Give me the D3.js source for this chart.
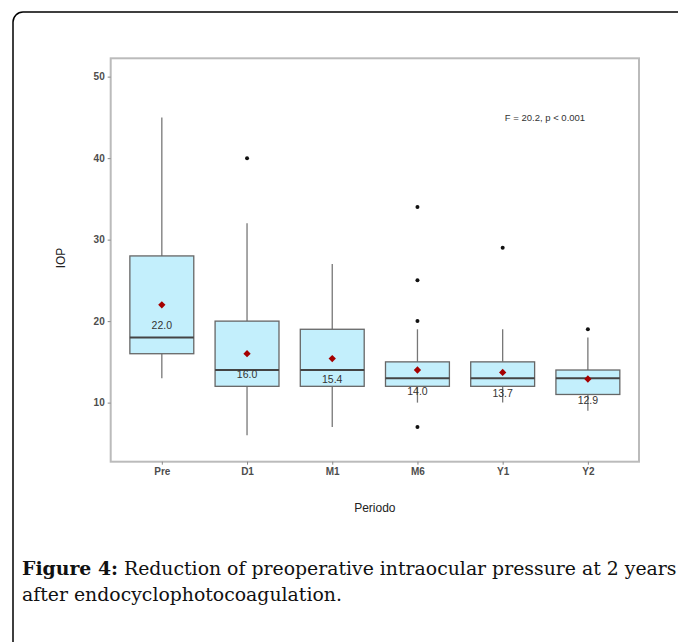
<!DOCTYPE html>
<html><head><meta charset="utf-8">
<script src="https://cdn.jsdelivr.net/npm/d3@7"></script>
<style>body{margin:0;background:#fff}svg{display:block}</style>
</head><body>
<script>
const categories = ["Pre","D1","M1","M6","Y1","Y2"];
const whiskerLow = [13, 6, 7, 10, 10, 9];
const q1 = [16, 12, 12, 12, 12, 11];
const median = [18, 14, 14, 13, 13, 13];
const q3 = [28, 20, 19, 15, 15, 14];
const whiskerHigh = [45, 32, 27, 19, 19, 18];
const means = [22.0, 16.0, 15.4, 14.0, 13.7, 12.9];
const outliers = [[], [40], [], [34, 25, 20, 7], [29], [19]];
const yTicks = [10, 20, 30, 40, 50];

const W = 678, H = 642;
const svg = d3.select("body").append("svg").attr("width", W).attr("height", H);

// outer frame (right and bottom edges fall outside the view)
svg.append("rect").attr("x", 13).attr("y", 12).attr("width", 720).attr("height", 700)
  .attr("rx", 10).attr("fill", "none").attr("stroke", "#000").attr("stroke-width", 1.5);

const L = 110.7, T = 58.3, R = 639, B = 461.7;
const y = d3.scaleLinear().domain([2.75, 52.25]).range([B, T]);
const unit = (R - L) / 6.2;
const xs = d3.scalePoint().domain(categories).range([L + 0.6 * unit, L + 5.6 * unit]);
const bw = 0.75 * unit;

const g = svg.append("g");
const font = "'Liberation Sans', Arial, sans-serif";

categories.forEach((c, i) => {
  const xc = xs(c);
  g.append("line").attr("x1", xc).attr("x2", xc).attr("y1", y(q3[i])).attr("y2", y(whiskerHigh[i]))
    .attr("stroke", "#777").attr("stroke-width", 1.3);
  g.append("line").attr("x1", xc).attr("x2", xc).attr("y1", y(q1[i])).attr("y2", y(whiskerLow[i]))
    .attr("stroke", "#777").attr("stroke-width", 1.3);
  g.append("rect").attr("x", xc - bw / 2).attr("width", bw)
    .attr("y", y(q3[i])).attr("height", y(q1[i]) - y(q3[i]))
    .attr("fill", "#c3effc").attr("stroke", "#666").attr("stroke-width", 1.3);
  g.append("line").attr("x1", xc - bw / 2).attr("x2", xc + bw / 2)
    .attr("y1", y(median[i])).attr("y2", y(median[i]))
    .attr("stroke", "#444").attr("stroke-width", 2);
  outliers[i].forEach(o => {
    g.append("circle").attr("cx", xc).attr("cy", y(o)).attr("r", 2).attr("fill", "#111");
  });
  g.append("path").attr("d", d3.symbol().type(d3.symbolDiamond2).size(34)())
    .attr("transform", `translate(${xc},${y(means[i])})`).attr("fill", "#a50000");
  g.append("text").attr("x", xc).attr("y", y(means[i]) + 21).attr("dy", "0.35em")
    .attr("text-anchor", "middle").attr("font-family", font).attr("font-size", 10.5)
    .attr("fill", "#333").text(means[i].toFixed(1));
});

svg.append("rect").attr("x", L).attr("y", T).attr("width", R - L).attr("height", B - T)
  .attr("fill", "none").attr("stroke", "#bbb").attr("stroke-width", 2);

const ya = svg.append("g").attr("transform", `translate(${L},0)`)
  .call(d3.axisLeft(y).tickValues(yTicks).tickSize(3).tickPadding(3));
ya.select(".domain").remove();
ya.selectAll("line").attr("stroke", "#888");
ya.selectAll("text").attr("font-family", font).attr("font-size", 10).attr("font-weight", "bold").attr("fill", "#4d4d4d");

const xa = svg.append("g").attr("transform", `translate(0,${B})`)
  .call(d3.axisBottom(xs).tickSize(3).tickPadding(3));
xa.select(".domain").remove();
xa.selectAll("line").attr("stroke", "#888");
xa.selectAll("text").attr("font-family", font).attr("font-size", 10).attr("font-weight", "bold").attr("fill", "#4d4d4d");

svg.append("text").attr("transform", `translate(61,258) rotate(-90)`)
  .attr("text-anchor", "middle").attr("dy", "0.35em").attr("font-family", font).attr("font-size", 12).attr("fill", "#222").text("IOP");
svg.append("text").attr("x", (L + R) / 2).attr("y", 508).attr("dy", "0.35em")
  .attr("text-anchor", "middle").attr("font-family", font).attr("font-size", 12).attr("fill", "#222").text("Periodo");

svg.append("text").attr("x", 545).attr("y", 118).attr("dy", "0.35em")
  .attr("text-anchor", "middle").attr("font-family", font).attr("font-size", 9.5).attr("fill", "#333")
  .text("F = 20.2, p < 0.001");

// caption, sized so the first line ends at the right edge as in the reference
const serif = "'DejaVu Serif', 'Liberation Serif', serif";
const cap = svg.append("text").attr("x", 22).attr("y", 575).attr("font-family", serif).attr("font-size", 18).attr("fill", "#111");
cap.append("tspan").attr("font-weight", "bold").text("Figure 4:");
cap.append("tspan").text(" Reduction of preoperative intraocular pressure at 2 years");
const cap2 = svg.append("text").attr("x", 22).attr("y", 601).attr("font-family", serif).attr("font-size", 18).attr("fill", "#111")
  .text("after endocyclophotocoagulation.");
const w1 = cap.node().getComputedTextLength();
const fs = 18 * 655 / w1;
cap.attr("font-size", fs);
cap2.attr("font-size", fs);
</script>
</body></html>
